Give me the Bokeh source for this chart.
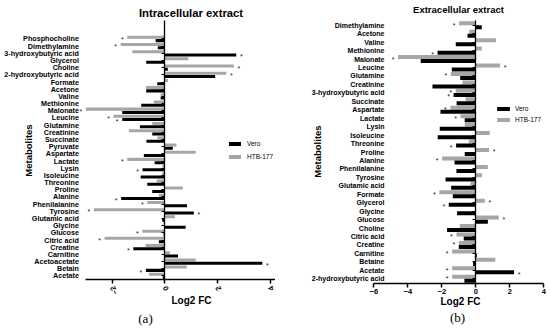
import math
from bokeh.plotting import figure
from bokeh.models import (ColumnDataSource, FixedTicker, Label, Legend, LegendItem,
                          Range1d, LinearAxis)
from bokeh.layouts import row
from bokeh.transform import dodge
from bokeh.core.properties import value
from bokeh.embed import file_html
from bokeh.resources import INLINE

# ---------------- data: intracellular extract (top to bottom) ----------------
in_metabolites = ["Phosphocholine", "Dimethylamine", "3-hydroxybutyric acid", "Glycerol",
                  "Choline", "2-hydroxybutyric acid", "Formate", "Acetone", "Valine",
                  "Methionine", "Malonate", "Leucine", "Glutamine", "Creatinine",
                  "Succinate", "Pyruvate", "Aspartate", "Lactate", "Lysin", "Isoleucine",
                  "Threonine", "Proline", "Alanine", "Phenilalanine", "Tyrosine",
                  "Glutamic acid", "Glycine", "Glucose", "Citric acid", "Creatine",
                  "Carnitine", "Acetoacetate", "Betain", "Acetate"]
in_vero = [-0.35, -0.27, 2.71, -0.71, 0.11, 1.91, -0.29, -0.71, -0.16, -0.90,
           -1.62, -1.62, -0.95, -0.48, -0.70, 0.30, -0.80, -0.39, -0.85, -0.92,
           -0.67, -0.48, -1.66, 0.84, 1.10, -0.10, 0.79, -0.05, -0.23, -1.20,
           0.50, 3.70, -0.72, -0.08]
in_htb = [-1.43, -1.68, -1.24, 0.89, 2.62, 2.33, 0.12, -0.71, -0.16, -0.42,
          -3.00, -1.95, -0.48, -1.37, -0.28, 0.44, 1.17, -1.43, -0.10, -0.10,
          -0.31, 0.68, -0.23, -0.67, -2.70, 0.38, -0.03, -0.86, -2.29, -0.73,
          0.19, 1.17, 0.83, -0.60]
in_vero_sig = [0, 0, 1, 0, 0, 0, 0, 0, 0, 0, 0, 1, 0, 0, 0, 0, 0, 0, 1, 0,
               0, 0, 1, 0, 1, 0, 0, 0, 0, 1, 0, 1, 1, 0]
in_htb_sig = [1, 1, 0, 0, 1, 1, 0, 0, 0, 0, 1, 1, 0, 0, 0, 0, 0, 1, 0, 0,
              0, 0, 0, 1, 1, 0, 0, 1, 1, 0, 0, 0, 0, 0]
in_ticks = [-2, 0, 2, 4]

# ---------------- data: extracellular extract (top to bottom) ----------------
ex_metabolites = ["Dimethylamine", "Acetone", "Valine", "Methionine", "Malonate",
                  "Leucine", "Glutamine", "Creatinine", "3-hydroxybutyric acid",
                  "Succinate", "Aspartate", "Lactate", "Lysin", "Isoleucine",
                  "Threonine", "Proline", "Alanine", "Phenilalanine", "Tyrosine",
                  "Glutamic acid", "Formate", "Glycerol", "Glycine", "Glucose",
                  "Choline", "Citric acid", "Creatine", "Carnitine", "Betaine",
                  "Acetate", "2-hydroxybutyric acid"]
ex_vero = [0.35, -0.49, -1.18, -2.25, -3.24, -1.41, -0.92, -2.55, -1.31, -1.13,
           -2.08, -0.65, -2.12, -2.24, -1.16, -0.65, -1.25, -1.14, -1.78, -1.45,
           -1.35, -1.59, -1.10, 0.71, -1.69, -0.71, -1.00, 0.06, -0.16, 2.25, -0.67]
ex_htb = [-0.98, -0.39, 1.18, 0.35, -4.57, 1.43, -1.47, -0.78, -1.18, -0.60,
          -1.49, -0.90, -0.65, 0.82, -0.41, 0.78, -1.98, 0.71, 0.37, -0.31,
          -2.14, 0.53, 0.02, 1.35, -0.94, -1.14, -1.00, -1.39, 1.15, -1.39, -1.39]
ex_vero_sig = [0, 0, 0, 1, 0, 0, 0, 0, 1, 0, 0, 0, 0, 0, 1, 0, 0, 0, 0, 0,
               0, 1, 0, 0, 0, 0, 0, 0, 0, 1, 0]
ex_htb_sig = [1, 0, 0, 0, 1, 1, 1, 0, 1, 0, 1, 1, 0, 0, 0, 1, 1, 0, 0, 0,
              1, 1, 0, 1, 0, 1, 1, 1, 0, 1, 1]
ex_ticks = [-6, -4, -2, 0, 2, 4]

series_names = ["Vero", "HTB-177"]

FONT = "Liberation Sans"
BLACK = "#000000"
GRAY = "#a6a6a6"
H = 330


def make_panel(names, vero, htb, vero_sig, htb_sig, ticks, cfg):
    n = len(names)
    ypos = [n - i for i in range(n)]
    src = ColumnDataSource(dict(y=ypos, vero=vero, htb=htb))

    xpx0, xval0, xunit = cfg["xmap"]
    ypx0, yval0, yunit = cfg["ymap"]
    left_px = cfg["page_left"]

    def px2x(px):
        return xval0 + (px - xpx0) / xunit

    def py2y(py):
        return yval0 + (ypx0 - py) / yunit

    p = figure(width=cfg["width"], height=H, title=None,
               x_range=Range1d(px2x(left_px), px2x(left_px + cfg["width"])),
               y_range=Range1d(py2y(H), py2y(0)),
               x_axis_location=None, y_axis_location=None,
               output_backend="svg", toolbar_location=None,
               min_border_left=0, min_border_right=0,
               min_border_top=0, min_border_bottom=0)
    p.center = []          # no grid lines
    p.outline_line_color = None
    p.background_fill_color = None
    p.border_fill_color = None

    off = cfg["off"]
    bh = cfg["bh"]
    r_htb = p.hbar(y=dodge("y", off), left=0, right="htb", height=bh,
                   fill_color=GRAY, line_color=None, source=src)
    r_vero = p.hbar(y=dodge("y", -off), left=0, right="vero", height=bh,
                    fill_color=BLACK, line_color=None, source=src)

    # significance stars
    for vals, sig, dy in ((htb, htb_sig, off), (vero, vero_sig, -off)):
        xs, ys, xo = [], [], []
        for v, s, y in zip(vals, sig, ypos):
            if s:
                xs.append(v)
                ys.append(y + dy)
                xo.append(5 if v > 0 else -5)
        ssrc = ColumnDataSource(dict(x=xs, y=ys, xo=xo))
        p.text(x="x", y="y", x_offset="xo", y_offset=cfg["star_dy"], text=value("*"),
               text_align="center", text_baseline="middle", text_color="#222222",
               text_font=value(FONT), text_font_size="7px", source=ssrc)

    x_lo, x_hi = cfg["xbounds"]
    y_bottom = 0.5
    y_top = py2y(cfg["zero_top_px"])

    # x axis
    xa = LinearAxis(fixed_location=y_bottom, bounds=(x_lo, x_hi),
                    ticker=FixedTicker(ticks=ticks, minor_ticks=[]))
    xa.axis_line_width = 1.5
    xa.major_tick_line_width = 1.5
    xa.major_tick_out = 4
    xa.major_tick_in = 0
    xa.minor_tick_line_color = None
    xa.major_label_text_font = FONT
    xa.major_label_text_font_style = "bold"
    xa.major_label_text_font_size = "7.5px"
    xa.major_label_text_color = BLACK
    xa.major_label_standoff = cfg["xstandoff"]
    if cfg["xorient"] is not None:
        xa.major_label_orientation = cfg["xorient"]
    p.add_layout(xa, "below")

    # zero line with small category ticks
    za = LinearAxis(fixed_location=0, bounds=(y_bottom, y_top),
                    ticker=FixedTicker(ticks=ypos, minor_ticks=[]))
    za.major_label_overrides = {y: "" for y in ypos}
    za.axis_line_width = 1.3
    za.axis_line_color = BLACK
    za.major_tick_out = 3
    za.major_tick_in = 0
    za.major_tick_line_width = 1
    za.minor_tick_line_color = None
    p.add_layout(za, "left")

    # category labels
    ya = LinearAxis(fixed_location=px2x(cfg["label_right_px"]),
                    ticker=FixedTicker(ticks=ypos, minor_ticks=[]))
    ya.major_label_overrides = {y: nm for y, nm in zip(ypos, names)}
    ya.axis_line_color = None
    ya.major_tick_line_color = None
    ya.minor_tick_line_color = None
    ya.major_tick_out = 0
    ya.major_tick_in = 0
    ya.major_label_standoff = 0
    ya.major_label_text_font = FONT
    ya.major_label_text_font_style = "bold"
    ya.major_label_text_font_size = cfg["yfont"]
    ya.major_label_text_color = BLACK
    p.add_layout(ya, "left")

    legend = Legend(items=[LegendItem(label=series_names[0], renderers=[r_vero]),
                           LegendItem(label=series_names[1], renderers=[r_htb])],
                    location=cfg["legend_loc"], orientation="vertical",
                    glyph_width=cfg["gw"], glyph_height=cfg["gh"],
                    label_height=8, label_width=10, spacing=cfg["lspace"],
                    label_standoff=cfg["lstand"], padding=0, margin=0,
                    border_line_color=None, background_fill_alpha=0,
                    label_text_font=FONT, label_text_font_size="6.5px",
                    label_text_color=BLACK)
    p.add_layout(legend)

    def add_text(txt, pos, size, style="bold", font=FONT, angle=0.0):
        p.add_layout(Label(x=px2x(pos[0]), y=py2y(pos[1]), text=txt, angle=angle,
                           text_align="center", text_baseline="middle", text_font=font,
                           text_font_style=style, text_font_size=size, text_color=BLACK))

    add_text(cfg["title_text"], cfg["title_pos"], cfg["title_size"])
    add_text("Log2 FC", cfg["xlabel_pos"], "10px")
    add_text("Metabolites", cfg["ylabel_pos"], "9.5px", angle=math.pi / 2)
    add_text(cfg["panel_text"], cfg["panel_pos"], "13px", style="normal",
             font="Liberation Serif")
    return p


left_cfg = dict(width=275, page_left=0, xmap=(85.4, -3.0, 26.33), ymap=(279.0, 0.5, 7.18),
                xbounds=(-3.0, 4.2), zero_top_px=20, label_right_px=78.5,
                off=0.23, bh=0.42, star_dy=2, xstandoff=3, xorient=2.0,
                yfont="7.2px", legend_loc=(227, 170), gw=15, gh=5, lspace=5, lstand=5,
                title_text="Intracellular extract", title_pos=(190.5, 12.7), title_size="11.3px",
                xlabel_pos=(191, 300), ylabel_pos=(28, 150),
                panel_text="(a)", panel_pos=(145, 318))
right_cfg = dict(width=275, page_left=275, xmap=(373.3, -6.0, 17.0), ymap=(282.5, 0.5, 8.45),
                 xbounds=(-6.0, 4.0), zero_top_px=20, label_right_px=384,
                 off=0.24, bh=0.47, star_dy=2, xstandoff=2, xorient=None,
                 yfont="7px", legend_loc=(220, 207), gw=16, gh=5, lspace=3, lstand=4,
                 title_text="Extracellular extract", title_pos=(458, 8.8), title_size="9.5px",
                 xlabel_pos=(460, 301), ylabel_pos=(317, 151),
                 panel_text="(b)", panel_pos=(457, 317))

p1 = make_panel(in_metabolites, in_vero, in_htb, in_vero_sig, in_htb_sig, in_ticks, left_cfg)
p2 = make_panel(ex_metabolites, ex_vero, ex_htb, ex_vero_sig, ex_htb_sig, ex_ticks, right_cfg)

layout = row(p1, p2, spacing=0)
open("out.html", "w").write(file_html(layout, INLINE))
